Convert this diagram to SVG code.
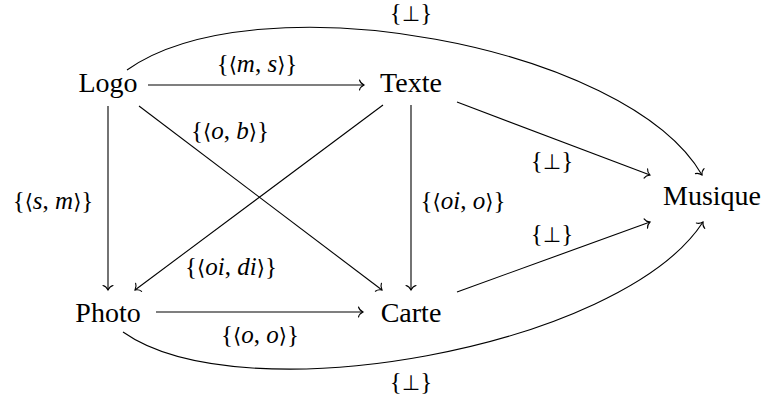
<svg xmlns="http://www.w3.org/2000/svg" width="766" height="403" viewBox="0 0 766 403">
<style>
.n{font-family:"Liberation Serif","DejaVu Serif",serif;font-size:28px;fill:#000;text-anchor:middle}
.l{font-family:"Liberation Serif","DejaVu Serif",serif;font-size:25px;fill:#000;text-anchor:middle}
.i{font-style:italic}
.s{font-family:"DejaVu Sans",sans-serif;font-size:21px}
.e{fill:none;stroke:#000;stroke-width:1.1}
</style>
<defs>
<marker id="ar" markerUnits="userSpaceOnUse" markerWidth="12" markerHeight="12" viewBox="-6 -6 12 12" refX="0" refY="0" orient="auto" overflow="visible">
<path d="M-4.5,-5 C-3.8,-2.2 -1.2,-0.6 0,0 C-1.2,0.6 -3.8,2.2 -4.5,5" fill="none" stroke="#000" stroke-width="1.1" stroke-linecap="round"/>
</marker>
</defs>
<rect width="766" height="403" fill="#fff"/>
<g id="connectors">
<path class="e" d="M148,85 H364" marker-end="url(#ar)"/>
<path class="e" d="M108,106 V290" marker-end="url(#ar)"/>
<path class="e" d="M411,105 V290" marker-end="url(#ar)"/>
<path class="e" d="M156,312 H363" marker-end="url(#ar)"/>
<path class="e" d="M139,106 L382,290" marker-end="url(#ar)"/>
<path class="e" d="M383,105 L135,290" marker-end="url(#ar)"/>
<path class="e" d="M457,102 L650,175" marker-end="url(#ar)"/>
<path class="e" d="M457,292 L650,222" marker-end="url(#ar)"/>
<path class="e" d="M127,70 C258,-22 627,45 702,175" marker-end="url(#ar)"/>
<path class="e" d="M123,332 C242,416 621,348 703,222" marker-end="url(#ar)"/>
<text class="l" x="257" y="72">{<tspan class="s">⟨</tspan><tspan class="i">m</tspan>, <tspan class="i">s</tspan><tspan class="s">⟩</tspan>}</text>
<text class="l" x="411" y="21">{<tspan class="s">⊥</tspan>}</text>
<text class="l" x="230" y="139">{<tspan class="s">⟨</tspan><tspan class="i">o</tspan>, <tspan class="i">b</tspan><tspan class="s">⟩</tspan>}</text>
<text class="l" x="53" y="209">{<tspan class="s">⟨</tspan><tspan class="i">s</tspan>, <tspan class="i">m</tspan><tspan class="s">⟩</tspan>}</text>
<text class="l" x="463" y="209">{<tspan class="s">⟨</tspan><tspan class="i">oi</tspan>, <tspan class="i">o</tspan><tspan class="s">⟩</tspan>}</text>
<text class="l" x="552" y="169">{<tspan class="s">⊥</tspan>}</text>
<text class="l" x="552" y="242">{<tspan class="s">⊥</tspan>}</text>
<text class="l" x="231" y="275">{<tspan class="s">⟨</tspan><tspan class="i">oi</tspan>, <tspan class="i">di</tspan><tspan class="s">⟩</tspan>}</text>
<text class="l" x="260" y="343">{<tspan class="s">⟨</tspan><tspan class="i">o</tspan>, <tspan class="i">o</tspan><tspan class="s">⟩</tspan>}</text>
<text class="l" x="411" y="390">{<tspan class="s">⊥</tspan>}</text>
</g>
<g id="logo"><text class="n" x="108" y="92">Logo</text></g>
<g id="texte"><text class="n" x="411" y="92">Texte</text></g>
<g id="musique"><text class="n" x="712" y="205">Musique</text></g>
<g id="photo"><text class="n" x="108" y="322">Photo</text></g>
<g id="carte"><text class="n" x="411" y="322">Carte</text></g>
</svg>
